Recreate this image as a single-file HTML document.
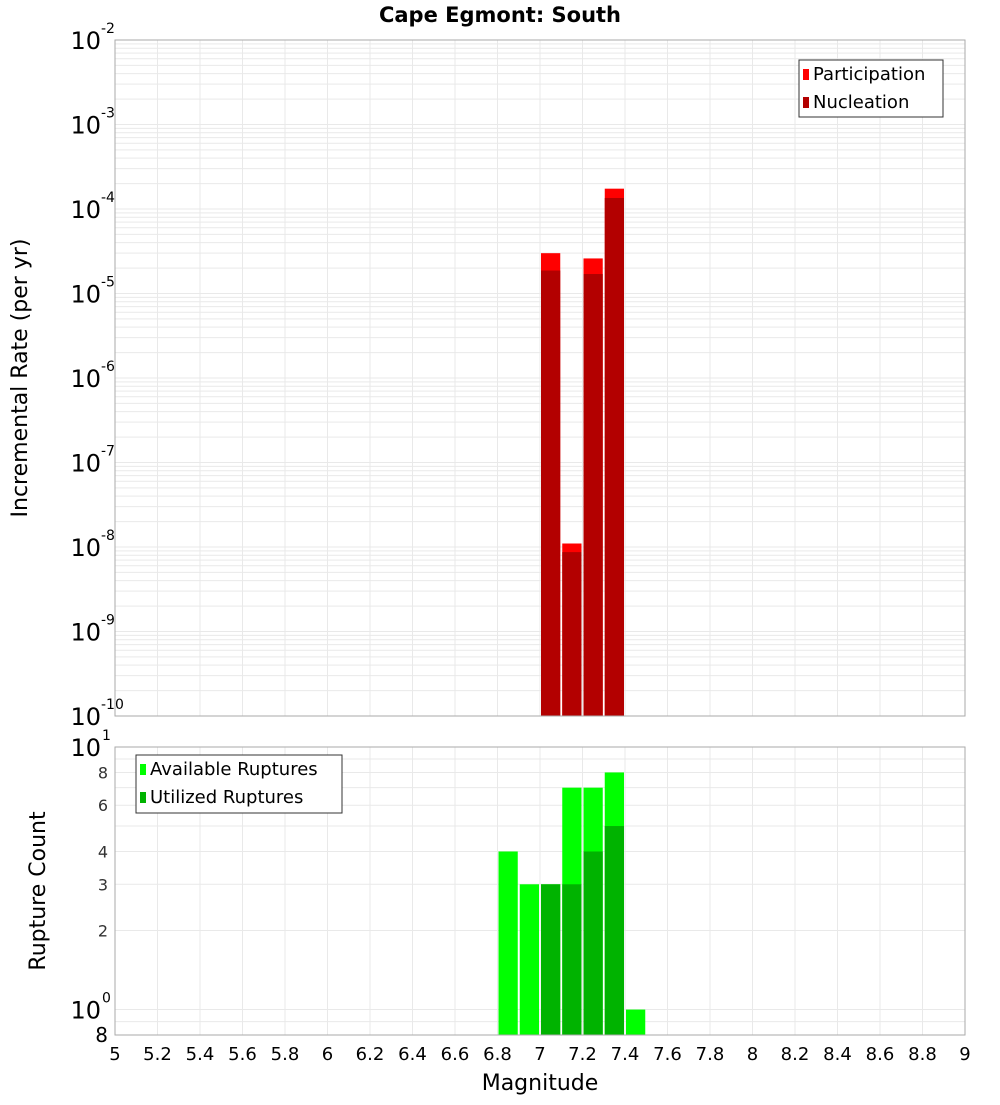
<!DOCTYPE html>
<html><head><meta charset="utf-8"><style>
body{margin:0;background:#fff}
svg{font-family:"DejaVu Sans","Liberation Sans",sans-serif}
</style></head><body>
<svg id="c" width="1000" height="1100"></svg>
<script>
const bins=[6.85,6.95,7.05,7.15,7.25,7.35,7.45];
const participation=[0,0,3.0e-5,1.1e-8,2.6e-5,1.74e-4,0];
const nucleation=[0,0,1.87e-5,8.7e-9,1.7e-5,1.35e-4,0];
const available=[4,3,3,7,7,8,1];
const utilized=[0,0,3,3,4,5,0];
const xTicks=[5,5.2,5.4,5.6,5.8,6,6.2,6.4,6.6,6.8,7,7.2,7.4,7.6,7.8,8,8.2,8.4,8.6,8.8,9];
const topExps=[-2,-3,-4,-5,-6,-7,-8,-9,-10];
const botTicks=[8,6,4,3,2];

const NS="http://www.w3.org/2000/svg",svg=document.getElementById('c');
function el(t,a,txt){const e=document.createElementNS(NS,t);for(const k in a)e.setAttribute(k,a[k]);if(txt!==undefined)e.textContent=txt;svg.appendChild(e);return e;}
const X0=115,X1=965;
const x=v=>X0+(v-5)/4*(X1-X0);
const T0=40,T1=716;
const yT=v=>T0+(-2-Math.log10(v))/8*(T1-T0);
const B0=747,B1=1035,bl=Math.log10(0.8);
const yB=v=>B0+(1-Math.log10(v))/(1-bl)*(B1-B0);
const g='#e9e9e9';
for(let e=-10;e<-2;e++)for(let m=1;m<10;m++){const yy=yT(m*Math.pow(10,e));let l=el('line',{x1:X0,x2:X1,y1:yy,y2:yy,stroke:g});}
for(const v of [0.8,0.9,1,2,3,4,5,6,7,8,9,10]){const yy=yB(v);let l=el('line',{x1:X0,x2:X1,y1:yy,y2:yy,stroke:g});}
for(const t of xTicks){for(const [a,b] of [[T0,T1],[B0,B1]]){let l=el('line',{x1:x(t),x2:x(t),y1:a,y2:b,stroke:g});}}
const bw=x(5.1)-x(5);
bins.forEach((b,i)=>{
 if(participation[i]>0){let r=el('rect',{x:x(b)-bw/2+1,y:yT(participation[i]),width:bw-2,height:T1-yT(participation[i]),fill:'#ff0000'});}
 if(nucleation[i]>0){let r=el('rect',{x:x(b)-bw/2+1,y:yT(nucleation[i]),width:bw-2,height:T1-yT(nucleation[i]),fill:'#b30000'});}
 if(available[i]>0){let r=el('rect',{x:x(b)-bw/2+1,y:yB(available[i]),width:bw-2,height:B1-yB(available[i]),fill:'#00ff00'});}
 if(utilized[i]>0){let r=el('rect',{x:x(b)-bw/2+1,y:yB(utilized[i]),width:bw-2,height:B1-yB(utilized[i]),fill:'#00b300'});}
});
let f=el('rect',{x:X0,y:T0,width:X1-X0,height:T1-T0,fill:'none',stroke:'#aaa'});
f=el('rect',{x:X0,y:B0,width:X1-X0,height:B1-B0,fill:'none',stroke:'#aaa'});
topExps.forEach(e=>{const yy=yT(Math.pow(10,e));let t=el('text',{x:101,y:yy+9,'text-anchor':'end','font-size':24},'10');
 let s=el('text',{x:101,y:yy-7,'font-size':14},String(e));});
botTicks.forEach(v=>{let t=el('text',{x:108,y:yB(v)+6,'text-anchor':'end','font-size':16,fill:'#333'},String(v));});
[[10,'1'],[1,'0']].forEach(([v,e])=>{let t=el('text',{x:101,y:yB(v)+9,'text-anchor':'end','font-size':24},'10');let s=el('text',{x:102,y:yB(v)-7,'font-size':14},e);});
let t8=el('text',{x:108,y:1042,'text-anchor':'end','font-size':20},'8');
xTicks.forEach(v=>{let t=el('text',{x:x(v),y:1060,'text-anchor':'middle','font-size':18},String(v));});
let tt=el('text',{x:500,y:22,'text-anchor':'middle','font-size':21,'font-weight':'bold'},'Cape Egmont: South');
tt=el('text',{x:540,y:1090,'text-anchor':'middle','font-size':22},'Magnitude');
tt=el('text',{x:0,y:0,'text-anchor':'middle','font-size':22,transform:'translate(27,378) rotate(-90)'},'Incremental Rate (per yr)');
tt=el('text',{x:0,y:0,'text-anchor':'middle','font-size':22,transform:'translate(45,891) rotate(-90)'},'Rupture Count');
function legend(x0,y0,w,h,items,name){let r=el('rect',{x:x0,y:y0,width:w,height:h,fill:'#fff',stroke:'#333'});
 items.forEach(([c,l],i)=>{const yy=y0+14+i*28;let s=el('rect',{x:x0+4,y:yy-5,width:6,height:11,fill:c});
 let t=el('text',{x:x0+14,y:yy+6,'font-size':18},l);});}
legend(799,60,144,57,[['#ff0000','Participation'],['#b30000','Nucleation']],'top-legend');
legend(136,755,206,58,[['#00ff00','Available Ruptures'],['#00b300','Utilized Ruptures']],'bottom-legend');
</script>
</body></html>
